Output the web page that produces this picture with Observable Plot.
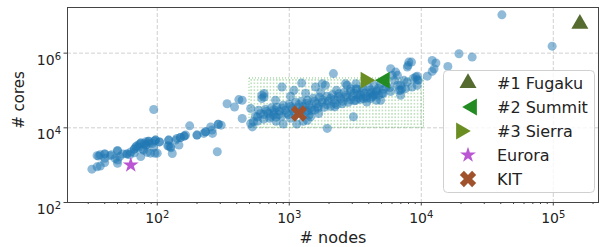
<!DOCTYPE html>
<html><head><meta charset="utf-8">
<script src="https://cdn.jsdelivr.net/npm/d3@7"></script>
<script src="https://cdn.jsdelivr.net/npm/@observablehq/plot@0.6"></script>
<style>
body{margin:0;background:#fff;}
#wrap{width:600px;height:247px;}
</style></head><body><div id="wrap"></div>
<script>
// TOP500-style systems: [nodes, cores]
const topSystems = [
  [32,780],[35,900],[37,950],[36,1750],[35,1800],[40,2000],[40,1170],[40,1530],[44,1800],
  [50,2450],[52,1700],[50,1120],[50,1370],[59,2000],[63,2250],[67,2150],[67,2700],[69,3110],
  [70,3250],[73,3600],[75,3900],[75,1700],[78,2650],[79,2500],[82,3450],[82,4250],[84,2200],
  [86,4400],[87,3830],[89,2100],[92,3830],[94,3000],[95,4400],[96,2080],[97,4700],[100,2100],
  [104,4200],[94,31000],
  [40,2000],[50,2450],[59,2000],[67,2700],[75,3900],[82,3450],[86,4400],[97,4700],[104,4200],
  [45,1900],[55,2000],[62,1900],[37,1900],[48,1500],[72,3000],[80,3800],
  [120,3300],[122,4700],[122,3250],[126,3100],[127,2930],[130,2050],[138,4700],[141,5200],
  [146,3450],[150,5500],[160,6000],[164,6400],[176,11300],[200,6400],[225,7100],[232,7800],
  [254,10600],[260,8700],[262,7100],[285,2280],[290,12500],[305,11800],
  [122,4700],[150,5500],[160,6000],[200,6400],[232,7800],[290,12500],
  [338,44000],[385,36000],[415,57000],[440,17800],[440,54800],[510,33000],[525,10600],
  [535,14500],[575,19600],[605,24000],[510,13000],
  // dense band
  [556,20500],[640,22600],[697,24600],[770,26200],[841,27900],[937,29600],[1047,32500],
  [1155,34600],[1277,37900],[1410,40300],[1608,44200],[1780,48400],[1966,51500],[2200,56500],
  [2448,60100],[2720,65900],[3010,70000],[3310,76800],[3710,84200],[4132,89500],[4600,98200],
  [5170,107700],[5760,118000],
  [585,29600],[661,31500],[735,34600],[803,35600],[900,40300],[1000,42900],[1117,48400],
  [1240,51600],[1370,54800],[1520,61900],[1690,65900],[1930,70000],[2130,76800],[2370,81700],
  [2610,89500],[2915,95200],[3250,107700],[3600,114500],[3980,125500],[4400,137600],[4919,146000],
  [575,15100],[640,17060],[710,18100],[795,19300],[880,20500],[985,22500],[1100,23900],
  [1219,26200],[1350,27900],[1480,29600],[1650,33500],[1840,35600],[2056,37900],[2280,41600],
  [2520,44200],[2800,48400],[3100,53100],[3470,58200],[3850,61900],[4280,67900],[4750,74500],
  [673,27540],[770,30600],[881,33700],[1023,37400],[1180,41300],[1350,45800],[1550,50900],
  [1780,56100],[2056,62300],[2360,69200],[2700,76300],[3100,84700],[3560,94000],[4132,103700],
  [4730,115100],[5460,127000],
  [721,20260],[830,22500],[955,24800],[1095,27540],[1257,30400],[1450,33700],[1660,37400],
  [1920,41300],[2200,45800],[2540,50900],[2915,56100],[3340,62300],[3830,69200],[4420,76300],
  [5060,84700],[5857,93500],
  // around the band
  [645,82700],[620,60800],[620,74500],[645,67000],[880,124000],[1085,101000],[1240,158000],
  [2160,283000],[1580,124000],[1880,138000],[1780,152000],[2740,138000],[2670,152000],
  [3200,152000],[2915,112000],[3200,112000],[3470,74500],[3870,49300],[2210,36300],
  [3060,19700],[1670,24200],[1560,29700],[1410,21800],[1370,26700],[1450,19700],[1370,16000],
  [1940,9650],[760,21800],[795,15000],[900,12600],[1023,18100],[1277,15000],[1140,12600],
  [3650,60800],[4570,54800],[3200,54800],[4130,82700],[4570,91200],[5150,82700],[4330,74500],
  [4919,54800],[4130,60800],[1023,70000],[1330,84200],[787,54800],[1727,89500],[2280,101000],
  // large systems
  [5860,384000],[6400,311000],[6600,254000],[6030,254000],[7400,187000],[7800,168600],
  [6260,187000],[7600,112000],[6970,101000],[7150,112000],[6600,138000],[6970,138000],
  [8700,211000],[9500,187000],[8500,124000],[9300,138000],[6780,101000],[6970,74500],
  [8050,576000],[8430,576000],[7930,470000],[7840,424000],[9060,229000],[9320,240000],
  [9320,195000],[11100,242000],[12100,638000],[12900,543000],[12500,383000],[12100,325000],
  [15900,442000],[19300,965000],[24300,784000],[40800,10600000],[98000,1540000]
];

// highlighted systems
const sysNames = ["#1 Fugaku", "#2 Summit", "#3 Sierra", "Eurora", "KIT"];
const sysNodes = [158976, 5290, 3780, 63, 1183];
const sysCores = [6100000, 187000, 187000, 1010, 24200];

// hatched region
const regionNodes = [500, 10500];
const regionCores = [10000, 210000];

// axis ticks
const majorX = [1e2, 1e3, 1e4, 1e5];
const minorX = [30,40,50,60,70,80,90,200,300,400,500,600,700,800,900,
  2000,3000,4000,5000,6000,7000,8000,9000,20000,30000,40000,50000,60000,70000,80000,90000,200000];
const majorY = [1e2, 1e4, 1e6];

const styles = [
  {symbol: "triangle", fill: "#556b2f", rotate: 0, r: 6.3, lx: 468},
  {symbol: "triangle", fill: "#228b22", rotate: -90, r: 6.3, lx: 472},
  {symbol: "triangle", fill: "#6b8e23", rotate: 90, r: 6.3, lx: 461},
  {symbol: "star", fill: "#ba55d3", rotate: 0, r: 5, lx: 468},
  {symbol: "cross", fill: "#a0522d", rotate: 45, r: 7.3, lx: 468}
];

const systems = sysNames.map((name, i) => ({name, nodes: sysNodes[i], cores: sysCores[i]}));
const region = [{x1: regionNodes[0], x2: regionNodes[1], y1: regionCores[0], y2: regionCores[1]}];
const sup = d => "10^" + Math.round(Math.log10(d));

const chart = Plot.plot({
  width: 600, height: 247,
  marginLeft: 67, marginRight: 2, marginTop: 7, marginBottom: 45,
  x: {type: "log", domain: [20.9, 220000]},
  y: {type: "log", domain: [100, 1.67e7]},
  style: {fontFamily: "DejaVu Sans", fontSize: "14px", color: "#222", background: "white", overflow: "visible"},
  marks: [
    Plot.gridX(majorX, {stroke: "#b0b0b0", strokeOpacity: 0.6, strokeDasharray: "4,2"}),
    Plot.gridY(majorY, {stroke: "#b0b0b0", strokeOpacity: 0.6, strokeDasharray: "4,2"}),
    Plot.rect(region, {x1: "x1", x2: "x2", y1: "y1", y2: "y2", fill: "url(#dots)",
      stroke: "#2ca02c", strokeOpacity: 0.6, strokeDasharray: "1,2"}),
    Plot.dot(topSystems, {x: d => d[0], y: d => d[1], r: 4.5, fill: "#1f77b4", fillOpacity: 0.5, stroke: "none"}),
    ...systems.map((s, i) => Plot.dot([s], {x: "nodes", y: "cores", symbol: styles[i].symbol,
      fill: styles[i].fill, rotate: styles[i].rotate, r: styles[i].r, stroke: "none"})),
    Plot.axisX(minorX, {tickSize: 2, tickFormat: () => "", label: null, stroke: "#444"}),
    Plot.axisX(majorX, {tickSize: 3.5, tickPadding: 7, tickFormat: sup, label: null, stroke: "#444"}),
    Plot.axisY(majorY, {tickSize: 3.5, tickPadding: 3, tickFormat: sup, label: null, stroke: "#444"}),
    Plot.frame({stroke: "#444"})
  ]
});

document.getElementById("wrap").appendChild(chart);
const svg = d3.select(chart);

svg.insert("defs", ":first-child").html(
  '<pattern id="dots" width="3.2" height="3.4" patternUnits="userSpaceOnUse">' +
  '<circle cx="1.6" cy="1.7" r="0.6" fill="#2ca02c" fill-opacity="0.75"/></pattern>');

// superscript tick labels
svg.selectAll("text").each(function() {
  const t = this.textContent;
  if (t.startsWith("10^")) {
    const el = d3.select(this);
    el.text("10");
    el.append("tspan").attr("dy", "-5px").attr("font-size", "10px").text(t.slice(3));
  }
});
svg.selectAll('g[aria-label="y-axis tick label"] text').attr("dy", "7px");

// axis titles
svg.append("text").attr("x", 333).attr("y", 243).attr("text-anchor", "middle")
  .attr("font-size", "16px").attr("fill", "#222").text("# nodes");
svg.append("text").attr("transform", "translate(24,100) rotate(-90)").attr("text-anchor", "middle")
  .attr("font-size", "15px").attr("fill", "#222").text("# cores");

// legend
const lg = svg.append("g");
lg.append("rect").attr("x", 443.5).attr("y", 70.5).attr("width", 151).attr("height", 122)
  .attr("rx", 4).attr("fill", "white").attr("fill-opacity", 0.8).attr("stroke", "#d0d0d0");
const symMap = {triangle: d3.symbolTriangle, star: d3.symbolStar, cross: d3.symbolCross};
systems.forEach((s, i) => {
  const st = styles[i];
  const cy = 83 + i * 24;
  lg.append("path")
    .attr("d", d3.symbol(symMap[st.symbol], Math.PI * st.r * st.r)())
    .attr("transform", `translate(${st.lx},${cy}) rotate(${st.rotate})`)
    .attr("fill", st.fill);
  lg.append("text").attr("x", 497).attr("y", cy + 5.8).attr("font-size", "16px")
    .attr("text-anchor", "start").attr("fill", "#222").text(s.name);
});
</script>
</body></html>
